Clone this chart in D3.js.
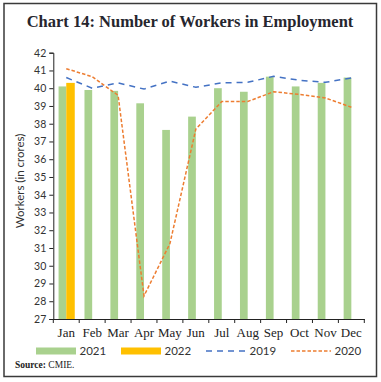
<!DOCTYPE html>
<html>
<head>
<meta charset="utf-8">
<script src="https://cdn.jsdelivr.net/npm/d3@7"></script>
<style>
  html, body { margin: 0; padding: 0; background: #fff; }
  svg { display: block; }
</style>
</head>
<body>
<svg id="chart" width="381" height="382"></svg>
<script>
const months = ["Jan","Feb","Mar","Apr","May","Jun","Jul","Aug","Sep","Oct","Nov","Dec"];
const values2021 = [40.1, 39.9, 39.85, 39.15, 37.65, 38.4, 40.0, 39.8, 40.65, 40.1, 40.3, 40.6];
const values2022 = [40.3, null, null, null, null, null, null, null, null, null, null, null];
const values2019 = [40.6, 40.0, 40.3, 39.95, 40.4, 40.05, 40.3, 40.33, 40.67, 40.45, 40.33, 40.58];
const values2020 = [41.1, 40.65, 39.6, 28.3, 31.25, 37.7, 39.25, 39.25, 39.8, 39.65, 39.45, 38.93];
const yTicks = [27,28,29,30,31,32,33,34,35,36,37,38,39,40,41,42];
const titleText = "Chart 14: Number of Workers in Employment";
const yLabel = "Workers (in crores)";
const legendItems = [
  {label: "2021", type: "bar", color: "#a9d18e"},
  {label: "2022", type: "bar", color: "#ffc000"},
  {label: "2019", type: "line", color: "#4472c4", dash: "6,5"},
  {label: "2020", type: "line", color: "#ed7d31", dash: "3.5,2"}
];

const svg = d3.select("#chart");

// frame
svg.append("rect").attr("x", 4).attr("y", 3.5).attr("width", 372.5).attr("height", 373)
  .attr("fill", "none").attr("stroke", "#3a3a3a").attr("stroke-width", 1.5);

// title
svg.append("text").attr("x", 190).attr("y", 27).attr("text-anchor", "middle")
  .attr("font-family", "Liberation Serif, serif").attr("font-weight", "bold")
  .attr("font-size", 16.5).attr("fill", "#26262e").text(titleText);

const x = d3.scaleBand().domain(months).range([53.3, 364.3]).padding(0);
const y = d3.scaleLinear().domain([27, 42]).range([319, 52.7]);
const bw = x.bandwidth();
const barW = 7.7;

// bars 2021
svg.append("g").selectAll("rect").data(months).join("rect")
  .attr("x", (m) => x(m) + bw / 2 - barW)
  .attr("width", barW)
  .attr("y", (m, i) => y(values2021[i]))
  .attr("height", (m, i) => y(27) - y(values2021[i]))
  .attr("fill", "#a9d18e");

// bars 2022
svg.append("g").selectAll("rect").data(months.filter((m, i) => values2022[i] != null)).join("rect")
  .attr("x", (m) => x(m) + bw / 2)
  .attr("width", barW + 0.8)
  .attr("y", (m) => y(values2022[months.indexOf(m)]))
  .attr("height", (m) => y(27) - y(values2022[months.indexOf(m)]))
  .attr("fill", "#ffc000");

// lines
const line = d3.line().x((d, i) => x(months[i]) + bw / 2).y((d) => y(d));
svg.append("path").datum(values2019).attr("d", line).attr("fill", "none")
  .attr("stroke", "#4472c4").attr("stroke-width", 1.5).attr("stroke-dasharray", "6,5");
svg.append("path").datum(values2020).attr("d", line).attr("fill", "none")
  .attr("stroke", "#ed7d31").attr("stroke-width", 1.5).attr("stroke-dasharray", "3.5,2");

// y axis
const yAxis = svg.append("g").attr("transform", "translate(53.3,0)")
  .call(d3.axisLeft(y).tickValues(yTicks).tickSize(4).tickPadding(3).tickFormat(d3.format("d")));
yAxis.select(".domain").attr("stroke", "#222").attr("stroke-width", 1);
yAxis.selectAll(".tick line").attr("stroke", "#222");
yAxis.selectAll("text").attr("font-family", "Lato, sans-serif").attr("font-size", 10.5).attr("fill", "#333");

// x axis
const xAxis = svg.append("g").attr("transform", "translate(0,319)")
  .call(d3.axisBottom(x).tickSize(0).tickPadding(9));
xAxis.select(".domain").attr("stroke", "#222").attr("stroke-width", 1);
xAxis.selectAll("text").attr("font-family", "Liberation Serif, serif").attr("font-size", 13).attr("fill", "#222");
// boundary tick marks
const bounds = months.map((m) => x(m)).concat([x(months[11]) + bw]);
xAxis.selectAll(".bound").data(bounds).join("line").attr("class", "bound")
  .attr("x1", (d) => d).attr("x2", (d) => d).attr("y1", 0).attr("y2", 4)
  .attr("stroke", "#222").attr("stroke-width", 1);

// y label
svg.append("text").attr("transform", "translate(24,181) rotate(-90)")
  .attr("text-anchor", "middle").attr("font-family", "Lato, sans-serif")
  .attr("font-size", 11.5).attr("fill", "#333").text(yLabel);

// legend
const legendX = [36, 121, 206, 291];
const lg = svg.append("g");
legendItems.forEach((it, i) => {
  const lx = legendX[i], ly = 351;
  if (it.type === "bar") {
    lg.append("rect").attr("x", lx).attr("y", ly - 3.5).attr("width", 40).attr("height", 7).attr("fill", it.color);
  } else {
    lg.append("line").attr("x1", lx).attr("x2", lx + 40).attr("y1", ly).attr("y2", ly)
      .attr("stroke", it.color).attr("stroke-width", 1.5).attr("stroke-dasharray", it.dash);
  }
  lg.append("text").attr("x", lx + 43.5).attr("y", ly + 4).attr("font-family", "Lato, sans-serif")
    .attr("font-size", 11.5).attr("fill", "#333").text(it.label);
});

// source
const src = svg.append("text").attr("x", 15).attr("y", 368).attr("font-family", "Liberation Serif, serif")
  .attr("font-size", 9.5).attr("fill", "#222");
src.append("tspan").attr("font-weight", "bold").text("Source: ");
src.append("tspan").text("CMIE.");
</script>
</body>
</html>
